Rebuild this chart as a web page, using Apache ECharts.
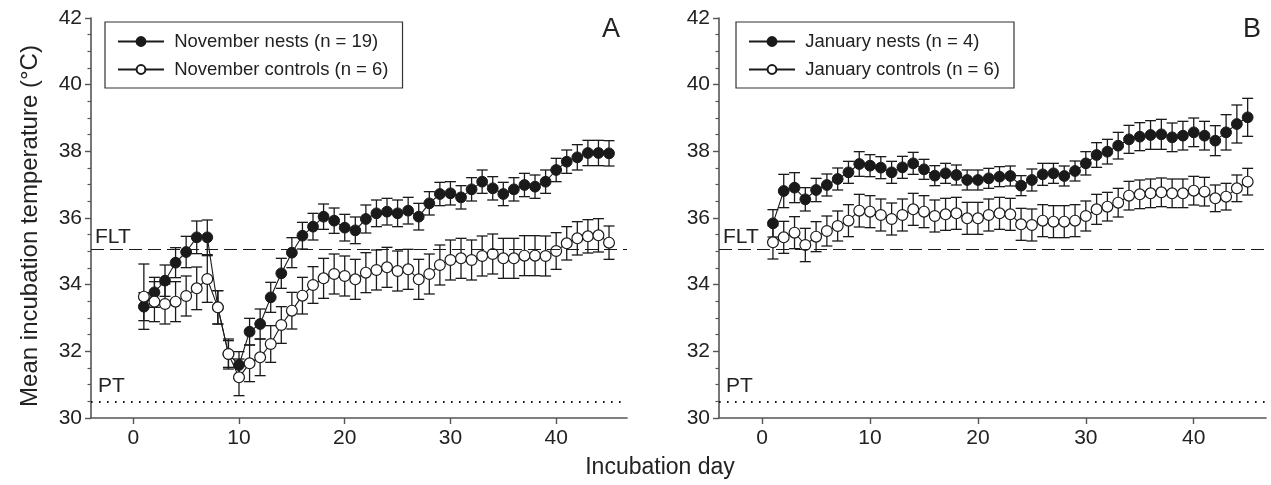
<!DOCTYPE html>
<html><head><meta charset="utf-8">
<script src="https://cdn.jsdelivr.net/npm/echarts@6/dist/echarts.min.js"></script>
<style>html,body{margin:0;padding:0;background:#fff}#c{width:1271px;height:485px}</style>
</head><body><div id="c"></div>
<script>
const days = [1,2,3,4,5,6,7,8,9,10,11,12,13,14,15,16,17,18,19,20,21,22,23,24,25,26,27,28,29,30,31,32,33,34,35,36,37,38,39,40,41,42,43,44,45];

const novNests = [33.34,33.77,34.12,34.66,34.98,35.42,35.42,33.32,31.92,31.59,32.59,32.82,33.62,34.34,34.96,35.47,35.74,36.04,35.92,35.71,35.63,35.97,36.14,36.19,36.14,36.22,36.04,36.44,36.72,36.74,36.62,36.86,37.09,36.89,36.72,36.86,36.99,36.94,37.09,37.44,37.69,37.82,37.95,37.95,37.94];
const novNestsSE = [0.42,0.45,0.47,0.45,0.47,0.49,0.52,0.5,0.4,0.4,0.4,0.45,0.45,0.45,0.45,0.4,0.4,0.38,0.38,0.4,0.4,0.42,0.4,0.4,0.4,0.4,0.4,0.35,0.35,0.35,0.35,0.35,0.35,0.35,0.35,0.35,0.35,0.35,0.35,0.35,0.35,0.38,0.38,0.38,0.38];
const novControls = [33.64,33.49,33.42,33.49,33.66,33.89,34.17,33.32,31.92,31.22,31.64,31.82,32.22,32.79,33.22,33.67,33.99,34.19,34.32,34.26,34.16,34.36,34.44,34.52,34.41,34.46,34.16,34.32,34.59,34.74,34.79,34.74,34.86,34.92,34.79,34.79,34.87,34.87,34.86,35.01,35.24,35.39,35.45,35.48,35.26];
const novControlsSE = [0.98,0.6,0.6,0.6,0.6,0.64,0.7,0.5,0.45,0.55,0.55,0.55,0.55,0.55,0.55,0.55,0.55,0.6,0.6,0.6,0.6,0.6,0.6,0.6,0.6,0.6,0.6,0.6,0.6,0.6,0.6,0.6,0.6,0.6,0.6,0.6,0.6,0.6,0.6,0.55,0.5,0.5,0.5,0.5,0.5];

const janNests = [35.84,36.81,36.91,36.56,36.84,36.99,37.17,37.37,37.62,37.57,37.51,37.37,37.52,37.64,37.46,37.27,37.34,37.29,37.14,37.14,37.19,37.24,37.26,36.97,37.14,37.31,37.34,37.26,37.41,37.64,37.89,37.99,38.17,38.36,38.44,38.49,38.51,38.42,38.47,38.57,38.47,38.32,38.57,38.82,39.02];
const janNestsSE = [0.41,0.5,0.45,0.35,0.35,0.33,0.33,0.33,0.37,0.33,0.33,0.33,0.33,0.33,0.3,0.3,0.3,0.3,0.3,0.3,0.3,0.3,0.3,0.3,0.33,0.33,0.3,0.3,0.3,0.35,0.37,0.37,0.4,0.42,0.42,0.43,0.45,0.43,0.43,0.43,0.43,0.45,0.53,0.57,0.57];
const janControls = [35.27,35.42,35.56,35.19,35.44,35.61,35.76,35.92,36.22,36.19,36.09,35.97,36.09,36.26,36.19,36.06,36.11,36.14,35.99,35.99,36.09,36.14,36.11,35.81,35.79,35.92,35.89,35.89,35.92,36.06,36.26,36.34,36.46,36.67,36.71,36.74,36.77,36.74,36.74,36.82,36.79,36.59,36.64,36.89,37.09];
const janControlsSE = [0.5,0.48,0.48,0.5,0.45,0.45,0.45,0.48,0.49,0.48,0.48,0.48,0.48,0.48,0.48,0.48,0.48,0.48,0.48,0.48,0.48,0.48,0.48,0.48,0.48,0.48,0.48,0.48,0.48,0.45,0.45,0.43,0.43,0.43,0.43,0.43,0.43,0.43,0.43,0.43,0.43,0.4,0.4,0.4,0.4];

const xTicks = [0,10,20,30,40];
const FLT = 35.05, PT = 30.5;
const names = {
  nn: 'November nests (n = 19)', nc: 'November controls (n = 6)',
  jn: 'January nests (n = 4)', jc: 'January controls (n = 6)'
};
const yTitle = 'Mean incubation temperature (°C)';
const xTitle = 'Incubation day';

const FONT = '"Liberation Sans", Arial, Helvetica, sans-serif';
const INK = '#1a1a1a';
const AX = '#555';

function pts(v){ return days.map((d,i)=>[d, v[i]]); }
function errs(v, se){ return days.map((d,i)=>[d, v[i]-se[i], v[i]+se[i]]); }

function errRender(params, api){
  const x = api.value(0);
  const lo = api.coord([x, api.value(1)]);
  const hi = api.coord([x, api.value(2)]);
  const w = 5.5;
  const st = {stroke: INK, lineWidth: 1.3};
  return {type:'group', children:[
    {type:'line', shape:{x1:lo[0],y1:lo[1],x2:hi[0],y2:hi[1]}, style:st},
    {type:'line', shape:{x1:lo[0]-w,y1:lo[1],x2:lo[0]+w,y2:lo[1]}, style:st},
    {type:'line', shape:{x1:hi[0]-w,y1:hi[1],x2:hi[0]+w,y2:hi[1]}, style:st}
  ]};
}

function xAx(g){
  return {type:'value', gridIndex:g, min:-4, max:46.7,
    axisLine:{show:true, onZero:false, lineStyle:{color:AX, width:1.6}},
    axisTick:{show:true, customValues:xTicks, length:6, lineStyle:{color:AX, width:1.4}},
    axisLabel:{customValues:xTicks, fontSize:21, color:'#222', fontFamily:FONT, margin:10},
    splitLine:{show:false}};
}
function yAx(g){
  return {type:'value', gridIndex:g, min:30, max:42, interval:2,
    axisLine:{show:true, onZero:false, lineStyle:{color:AX, width:1.6}},
    axisTick:{show:true, length:6, lineStyle:{color:AX, width:1.4}},
    minorTick:{show:true, splitNumber:4, length:3.5, lineStyle:{color:AX, width:1.2}},
    axisLabel:{fontSize:21, color:'#222', fontFamily:FONT, margin:9},
    splitLine:{show:false}};
}

function refLines(){
  const lab = {show:true, position:'insideStartTop', fontSize:21, color:'#222', fontFamily:FONT, distance:[4,2]};
  return {silent:true, symbol:'none', animation:false,
    data:[
      {yAxis:FLT, lineStyle:{type:[13,6], color:INK, width:1.2}, label:Object.assign({}, lab, {formatter:'FLT'})},
      {yAxis:PT, lineStyle:{type:[1.6,6.4], color:INK, width:1.8}, label:Object.assign({}, lab, {formatter:'PT', distance:[7,5]})}
    ]};
}

function panelSeries(g, nests, nestsSE, ctrls, ctrlsSE, nName, cName){
  return [
    {type:'custom', xAxisIndex:g, yAxisIndex:g, renderItem:errRender, data:errs(nests, nestsSE), z:1, silent:true, encode:{x:0, y:[1,2]}},
    {type:'custom', xAxisIndex:g, yAxisIndex:g, renderItem:errRender, data:errs(ctrls, ctrlsSE), z:1, silent:true, encode:{x:0, y:[1,2]}},
    {type:'line', name:nName, xAxisIndex:g, yAxisIndex:g, data:pts(nests), symbol:'circle', symbolSize:10.8,
      itemStyle:{color:INK, borderColor:INK, borderWidth:1}, lineStyle:{color:INK, width:1.1}, z:3,
      markLine: refLines()},
    {type:'line', name:cName, xAxisIndex:g, yAxisIndex:g, data:pts(ctrls), symbol:'circle', symbolSize:10.8,
      itemStyle:{color:'#fff', borderColor:INK, borderWidth:1.2}, lineStyle:{color:INK, width:1.1}, z:4}
  ];
}

function legendCfg(data, left){
  return {data:data, orient:'vertical', left:left, top:22,
    borderColor:'#333', borderWidth:1.2, padding:[10,14,9,12], itemGap:9,
    itemWidth:46, itemHeight:11, formatter:' {name}',
    textStyle:{fontSize:18.5, color:'#222', fontFamily:FONT}};
}

const chart = echarts.init(document.getElementById('c'), null, {renderer:'canvas'});
chart.setOption({
  animation:false,
  backgroundColor:'#fff',
  grid:[
    {left:91, top:18, right:644, bottom:67},
    {left:719, top:18, right:5, bottom:67}
  ],
  xAxis:[xAx(0), xAx(1)],
  yAxis:[yAx(0), yAx(1)],
  legend:[legendCfg([names.nn, names.nc], 105), legendCfg([names.jn, names.jc], 736)],
  title:[
    {text:'A', left:602, top:16, padding:0, textStyle:{fontSize:27, fontWeight:'normal', color:'#222', fontFamily:FONT}},
    {text:'B', left:1243, top:16, padding:0, textStyle:{fontSize:27, fontWeight:'normal', color:'#222', fontFamily:FONT}}
  ],
  graphic:[
    {type:'text', x:30, y:226, rotation:Math.PI/2, style:{text:yTitle, fontSize:24, fill:'#222', fontFamily:FONT, textAlign:'center', textVerticalAlign:'middle'}},
    {type:'text', x:660, y:468, style:{text:xTitle, fontSize:23, fill:'#222', fontFamily:FONT, textAlign:'center', textVerticalAlign:'middle'}}
  ],
  series:[].concat(
    panelSeries(0, novNests, novNestsSE, novControls, novControlsSE, names.nn, names.nc),
    panelSeries(1, janNests, janNestsSE, janControls, janControlsSE, names.jn, names.jc)
  )
});
</script></body></html>
